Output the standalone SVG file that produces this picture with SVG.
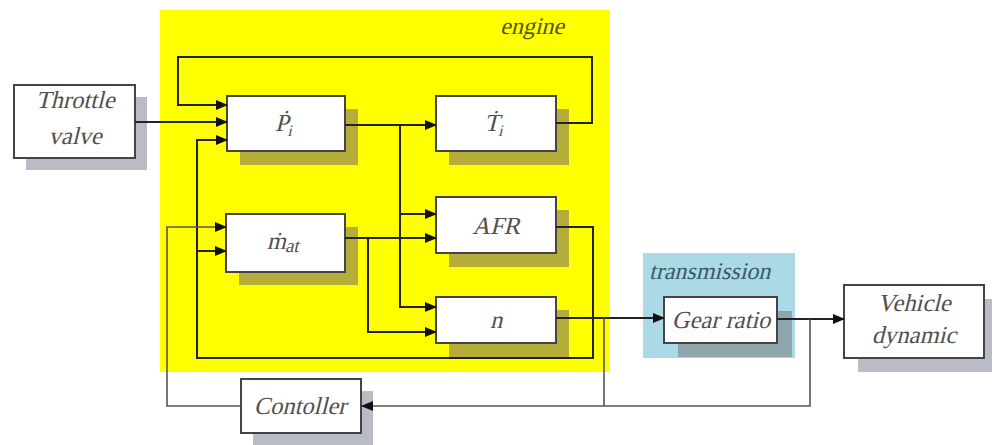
<svg xmlns="http://www.w3.org/2000/svg" width="992" height="445" viewBox="0 0 992 445">
<defs>
<marker id="ah" markerWidth="12" markerHeight="10" refX="11" refY="5" orient="auto" markerUnits="userSpaceOnUse">
<path d="M0,0 L12,5 L0,10 z" fill="#111"/>
</marker>
<style>
.box{fill:#fff;stroke:#444;stroke-width:2}
.shY{fill:#b5ad3a}
.shG{fill:#b9bcc6}
.shB{fill:#8ea5ac}
.ln{fill:none;stroke:#222;stroke-width:2}
.lg{fill:none;stroke:#555;stroke-width:1.6}
text{font-family:'Liberation Serif',serif;font-style:normal}
.t{font-size:24.5px;fill:#505050;text-anchor:middle}
.lbl{font-size:24px;fill:#55551e}
</style>
</defs>
<rect width="992" height="445" fill="#fff"/>
<rect id="engine-area" x="160" y="10" width="450" height="362" fill="#ffff00"/>
<g transform="translate(500,34) skewX(-14)"><text class="lbl" x="0" y="0">engine</text></g>
<rect id="transmission-area" x="643" y="253" width="152" height="105" fill="#abd9e6"/>
<g transform="translate(649,279) skewX(-14)"><text class="lbl" x="0" y="0" style="fill:#3c5a66">transmission</text></g>

<g id="throttle-valve">
<rect class="shG" x="26" y="97" width="121" height="73"/>
<rect class="box" x="14" y="85" width="121" height="73"/>
<g transform="translate(75,0) skewX(-14)">
<text class="t" x="27" y="108">Throttle</text>
<text class="t" x="36" y="144">valve</text>
</g>
</g>
<g id="Pi">
<rect class="shY" x="240" y="109" width="118" height="56"/>
<rect class="box" x="227" y="96" width="118" height="55"/>
<g transform="translate(284,131) skewX(-14)"><text class="t" x="0" y="0">Ṗ<tspan font-size="16" dy="5">i</tspan></text></g>
</g>
<g id="Ti">
<rect class="shY" x="449" y="109" width="120" height="56"/>
<rect class="box" x="436" y="96" width="120" height="55"/>
<g transform="translate(494,131) skewX(-14)"><text class="t" x="0" y="0">Ṫ<tspan font-size="16" dy="5">i</tspan></text></g>
</g>
<g id="AFR">
<rect class="shY" x="449" y="210" width="120" height="57"/>
<rect class="box" x="436" y="197" width="120" height="56"/>
<g transform="translate(496,234) skewX(-14)"><text class="t" x="0" y="0">AFR</text></g>
</g>
<g id="m_at">
<rect class="shY" x="239" y="227" width="119" height="58"/>
<rect class="box" x="226" y="214" width="119" height="58"/>
<g transform="translate(283,249) skewX(-14)"><text class="t" x="0" y="0">ṁ<tspan font-size="19" dy="3">at</tspan></text></g>
</g>
<g id="n">
<rect class="shY" x="449" y="310" width="120" height="47"/>
<rect class="box" x="436" y="297" width="120" height="46"/>
<g transform="translate(496,328) skewX(-14)"><text class="t" x="0" y="0">n</text></g>
</g>
<g id="gear-ratio">
<rect class="shB" x="678" y="311" width="114" height="46"/>
<rect class="box" x="664" y="297" width="113" height="46"/>
<g transform="translate(721,328) skewX(-14)"><text class="t" x="0" y="0">Gear ratio</text></g>
</g>
<g id="vehicle-dynamic">
<rect class="shG" x="858" y="299" width="134" height="73"/>
<rect class="box" x="844" y="285" width="140" height="73"/>
<g transform="translate(914,311) skewX(-14)"><text class="t" x="0" y="0">Vehicle</text></g>
<g transform="translate(914,343) skewX(-14)"><text class="t" x="0" y="0">dynamic</text></g>
</g>
<g id="controller">
<rect class="shG" x="253" y="391" width="120" height="54"/>
<rect class="box" x="241" y="379" width="120" height="54"/>
<g transform="translate(300,414) skewX(-14)"><text class="t" x="0" y="0">Contoller</text></g>
</g>

<g id="connectors">
<path class="ln" d="M135,122 H227" marker-end="url(#ah)"/>
<path class="ln" d="M556,123 H592 V57 H178 V105 H227" marker-end="url(#ah)"/>
<path class="ln" d="M556,227 H593 V358 H197 V140 H227" marker-end="url(#ah)"/>
<path class="ln" d="M197,251 H226" marker-end="url(#ah)"/>
<path class="ln" d="M345,125 H436" marker-end="url(#ah)"/>
<path class="ln" d="M400,125 V307 H436" marker-end="url(#ah)"/>
<path class="ln" d="M400,214 H436" marker-end="url(#ah)"/>
<path class="ln" d="M345,238 H436" marker-end="url(#ah)"/>
<path class="ln" d="M368,238 V332 H436" marker-end="url(#ah)"/>
<path class="ln" d="M556,318 H664" marker-end="url(#ah)"/>
<path class="ln" d="M777,319 H844" marker-end="url(#ah)"/>
<path class="lg" d="M604,318 V406"/>
<path class="lg" d="M810,319 V406 H362" marker-end="url(#ah)"/>
<path class="lg" d="M241,406 H167 V227 H226" marker-end="url(#ah)"/>
</g>
</svg>
